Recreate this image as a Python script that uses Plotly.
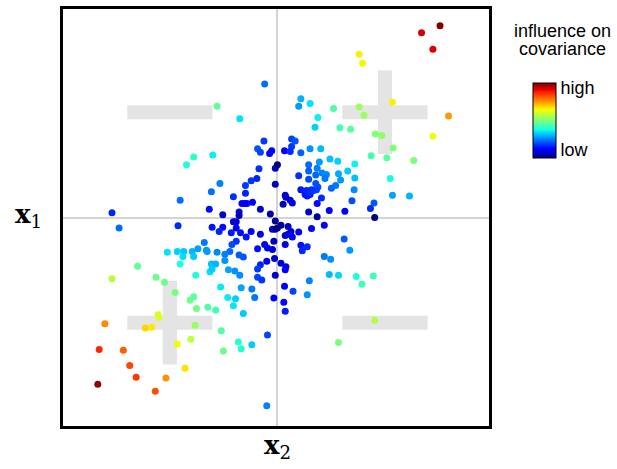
import numpy as np
import plotly.graph_objects as go

# Centred observations: x2 on the horizontal axis, x1 on the vertical axis
x2 = [2.29, 2.03, 2.19, 1.15, 1.20, -0.18, 0.33, 0.30, 0.46, -0.85,
      0.79, 1.15, 1.22, 1.62, 2.41, -0.53, 0.57, 0.53, 0.88, 1.03,
      1.38, 1.47, 2.19, 1.63, 1.32, 1.54, 1.92, -1.18, -0.91, -1.28,
      -0.19, 0.20, 0.25, 0.20, -0.28, -0.24, -0.11, -0.08, 0.10, 0.18,
      0.33, 0.46, 0.61, 0.74, 0.85, 1.09, 0.44, 0.59, -0.03, 0.00,
      -0.26, 0.56, 0.30, 0.44, 0.54, 0.63, 0.69, 0.67, 0.86, 0.99,
      1.09, 0.89, 1.59, -0.81, -0.37, -0.29, -0.45, -0.03, 0.33, 0.44,
      0.54, 0.57, 0.82, 0.76, 0.39, 0.42, 0.46, 0.51, 0.55, 0.48,
      0.41, 1.08, 1.62, 1.86, -0.93, -0.62, -0.45, 0.11, 0.08, 0.18,
      0.21, 0.62, 1.05, -0.50, -0.46, -0.43, -0.35, -1.37, -0.96, -0.24,
      -0.77, -0.54, -0.54, -0.10, 0.44, 0.56, 0.73, 0.95, 1.36, 1.31,
      1.37, -2.33, -2.23, -1.40, -0.62, -0.58, -0.92, -0.77, -0.82, -0.65,
      -0.58, -0.52, -0.37, -0.44, -0.03, 0.05, 0.15, -0.07, -0.03, 0.00,
      0.11, 0.15, 0.19, 0.30, 0.48, 0.66, -0.24, -0.58, -0.64, -0.67,
      -1.03, -1.00, -0.99, -0.85, -0.74, -1.12, -1.20, -1.18, -1.32, -1.33,
      -1.41, -1.55, -1.37, -0.18, -0.14, -0.07, -0.05, -0.28, 0.11, 0.33,
      0.42, 0.35, 0.94, 1.02, 0.66, 0.75, -0.54, -0.48, -0.74, -0.93,
      -0.87, -0.95, -0.92, -0.69, -0.60, -0.53, -0.24, -0.28, -0.15, -0.04,
      0.05, 0.12, 0.11, -0.03, -0.28, -0.22, -1.15, -1.97, -2.33, -1.71,
      -1.59, -1.44, -1.23, -1.18, -1.14, -0.98, -0.87, -0.80, -0.70, -0.59,
      -0.62, -0.51, -0.36, -0.32, -0.48, -0.05, 0.10, 0.22, 0.09, 0.11,
      0.42, 0.45, 0.73, 0.86, 1.11, 1.19, 1.35, 1.37, -2.43, -1.68,
      -1.67, -1.86, -1.77, -1.16, -0.79, -1.22, -1.41, -0.55, -0.51, -0.36,
      -0.76, -0.14, 0.86, -2.51, -2.17, -2.08, -1.99, -1.57, -1.30, -2.53,
      -1.72, -0.15, 0.56, 0.21, 0.12]

x1 = [2.76, 2.66, 2.42, 2.35, 2.22, 1.92, 1.71, 1.60, 1.64, 1.60,
      1.57, 1.59, 1.47, 1.66, 1.46, 1.42, 1.44, 1.30, 1.29, 1.27,
      1.20, 1.18, 1.17, 1.00, 0.89, 0.86, 0.82, 0.87, 0.90, 0.76,
      1.10, 1.13, 1.10, 1.02, 0.99, 0.94, 0.92, 0.96, 0.96, 0.95,
      0.93, 0.99, 0.99, 0.84, 0.81, 0.77, 0.76, 0.80, 0.71, 0.76,
      0.70, 0.71, 0.60, 0.67, 0.61, 0.64, 0.62, 0.56, 0.63, 0.67,
      0.57, 0.54, 0.56, 0.49, 0.53, 0.56, 0.46, 0.48, 0.40, 0.55,
      0.49, 0.44, 0.46, 0.42, 0.33, 0.31, 0.33, 0.39, 0.40, 0.40,
      0.39, 0.40, 0.32, 0.31, 0.37, 0.30, 0.35, 0.32, 0.19, 0.25,
      0.21, 0.28, 0.24, 0.20, 0.20, 0.20, 0.22, 0.25, 0.12, 0.12,
      0.04, 0.08, 0.03, 0.05, 0.08, 0.01, 0.10, 0.09, 0.21, 0.13,
      0.00, 0.07, -0.15, -0.12, -0.06, -0.06, -0.14, -0.14, -0.20, -0.22,
      -0.15, -0.22, -0.20, -0.28, -0.05, -0.11, -0.13, -0.17, -0.17, -0.15,
      -0.26, -0.24, -0.20, -0.21, -0.16, -0.11, -0.24, -0.34, -0.39, -0.49,
      -0.36, -0.47, -0.49, -0.50, -0.53, -0.45, -0.49, -0.56, -0.49, -0.56,
      -0.49, -0.50, -0.67, -0.39, -0.44, -0.46, -0.34, -0.45, -0.39, -0.40,
      -0.42, -0.48, -0.31, -0.47, -0.56, -0.60, -0.54, -0.57, -0.62, -0.67,
      -0.67, -0.78, -0.74, -0.75, -0.77, -0.83, -0.68, -0.74, -0.63, -0.59,
      -0.66, -0.71, -0.75, -0.83, -0.86, -0.90, -0.83, -0.70, -0.88, -0.86,
      -0.93, -1.08, -1.19, -1.14, -1.31, -1.29, -1.33, -1.00, -1.15, -1.17,
      -1.27, -1.01, -1.03, -1.15, -1.38, -1.16, -0.99, -1.06, -1.22, -1.35,
      -1.11, -0.91, -0.82, -0.83, -0.85, -0.96, -0.84, -1.48, -1.53, -1.40,
      -1.44, -1.59, -1.58, -1.55, -1.63, -1.75, -1.82, -1.79, -1.89, -1.83,
      -1.92, -1.69, -1.80, -1.90, -1.91, -2.13, -2.30, -2.31, -2.17, -2.40,
      -2.50, -2.71, 0.20, -0.28, 0.29]

x1 = np.array(x1)
x2 = np.array(x2)

# Each point's contribution to the covariance is the product of its centred values
influence = np.abs(x1 * x2)
shade = np.sqrt(influence)
cmax = float(shade.max())

# Matplotlib-style jet colour map
jet = [
    [0.00, "rgb(0,0,128)"], [0.11, "rgb(0,0,255)"], [0.125, "rgb(0,0,255)"],
    [0.34, "rgb(0,219,255)"], [0.35, "rgb(0,230,247)"], [0.375, "rgb(21,255,226)"],
    [0.64, "rgb(239,255,8)"], [0.65, "rgb(247,245,0)"], [0.66, "rgb(255,236,0)"],
    [0.89, "rgb(255,19,0)"], [0.91, "rgb(232,0,0)"], [1.00, "rgb(128,0,0)"],
]

fig = go.Figure()
fig.add_trace(go.Scatter(
    x=x2, y=x1, mode="markers",
    marker=dict(
        size=7, color=shade, colorscale=jet, cmin=0, cmax=cmax,
        line=dict(width=0),
        colorbar=dict(
            x=1.1033, xanchor="left", y=0.8214, yanchor="top",
            thickness=23, lenmode="pixels", len=75, xpad=0, ypad=0,
            outlinewidth=1, outlinecolor="black",
            tickmode="array", tickvals=[0.116 * cmax, 0.95 * cmax],
            ticktext=["low", "high"], ticks="", ticklen=0,
            tickfont=dict(family="Liberation Sans, Arial", size=18, color="black"),
        ),
    ),
    hoverinfo="skip", showlegend=False,
))

# Grey plus / minus signs marking the sign of x1*x2 in each quadrant
sign_gray = "#e4e4e4"
c, half_len, half_w = 1.515, 0.6, 0.1
shapes = []
for sx, sy, plus in [(-1, 1, False), (1, 1, True), (-1, -1, True), (1, -1, False)]:
    cx, cy = sx * c, sy * c
    shapes.append(dict(type="rect", xref="x", yref="y", layer="below",
                       x0=cx - half_len, x1=cx + half_len, y0=cy - half_w, y1=cy + half_w,
                       fillcolor=sign_gray, line=dict(width=0)))
    if plus:
        shapes.append(dict(type="rect", xref="x", yref="y", layer="below",
                           x0=cx - half_w, x1=cx + half_w, y0=cy - half_len, y1=cy + half_len,
                           fillcolor=sign_gray, line=dict(width=0)))

axis_style = dict(showgrid=False, showticklabels=False, ticks="",
                  zeroline=True, zerolinecolor="#d4d4d4", zerolinewidth=2,
                  showline=True, mirror=True, linecolor="black", linewidth=3)

label_font = dict(family="DejaVu Serif", size=26, color="black")
title_font = dict(family="Liberation Sans, Arial", size=18, color="black")
annotations = [
    dict(text="<b>x</b><sub>1</sub>", xref="paper", yref="paper", x=-0.08, y=0.505,
         xanchor="center", yanchor="middle", showarrow=False, font=label_font),
    dict(text="<b>x</b><sub>2</sub>", xref="paper", yref="paper", x=0.503, y=-0.05,
         xanchor="center", yanchor="middle", showarrow=False, font=label_font),
    dict(text="influence on", xref="paper", yref="paper", x=1.1737, y=0.9466,
         xanchor="center", yanchor="middle", showarrow=False, font=title_font),
    dict(text="covariance", xref="paper", yref="paper", x=1.1737, y=0.9052,
         xanchor="center", yanchor="middle", showarrow=False, font=title_font),
]

fig.update_layout(
    width=617, height=469,
    margin=dict(l=63, r=128, t=6, b=43),
    paper_bgcolor="white", plot_bgcolor="white",
    xaxis=dict(range=[-3.02, 2.98], **axis_style),
    yaxis=dict(range=[-3.0, 3.0], **axis_style),
    shapes=shapes, annotations=annotations,
)

fig.write_html("out.html")
